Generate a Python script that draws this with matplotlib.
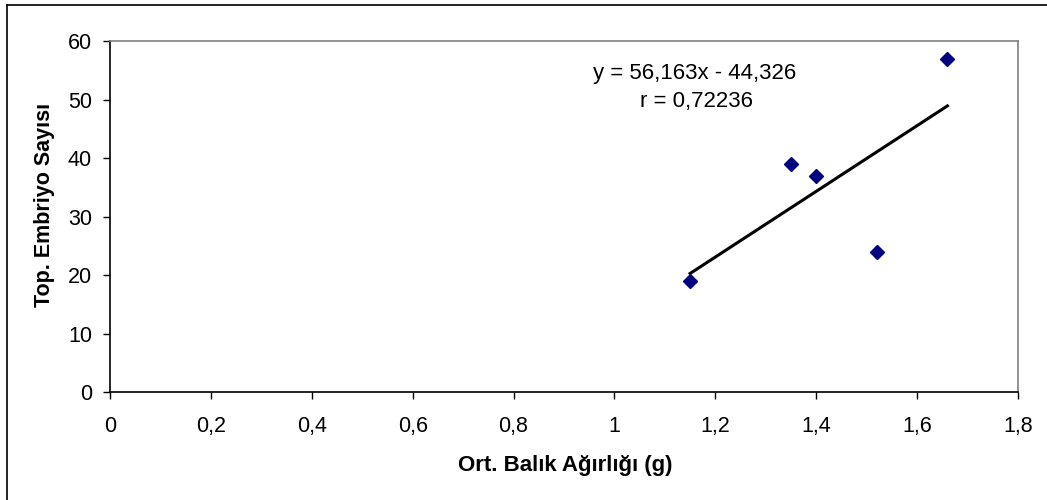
import numpy as np
import matplotlib
matplotlib.use("Agg")
import matplotlib.pyplot as plt
from matplotlib.lines import Line2D
from matplotlib.ticker import FuncFormatter

# Data
weight = [1.15, 1.35, 1.40, 1.52, 1.66]
embryos = [19, 39, 37, 24, 57]
x_ticks = [0, 0.2, 0.4, 0.6, 0.8, 1.0, 1.2, 1.4, 1.6, 1.8]
y_ticks = [0, 10, 20, 30, 40, 50, 60]
eq_text = "y = 56,163x - 44,326"
r_text = "r = 0,72236"
x_label = "Ort. Balık Ağırlığı (g)"
y_label = "Top. Embriyo Sayısı"

plt.rcParams['font.family'] = ['Liberation Sans', 'DejaVu Sans']

fig = plt.figure(figsize=(10.47, 5.0), dpi=100)
ax = fig.add_axes([110/1047, 1-392/500, (1018-110)/1047, (392-41)/500])

# outer chart border (only top and left visible, cropped)
fig.add_artist(Line2D([7/1047, 7/1047], [0, 1-5/500], transform=fig.transFigure, color='black', lw=1.2))
fig.add_artist(Line2D([7/1047, 1], [1-5/500, 1-5/500], transform=fig.transFigure, color='black', lw=1.2))

# trend line
coef = np.polyfit(weight, embryos, 1)
xs = np.array([min(weight), max(weight)])
ax.plot(xs, np.polyval(coef, xs), color='black', lw=2.2, zorder=2)

ax.plot(weight, embryos, linestyle='none', marker='D', markersize=7.5,
        color='#000080', zorder=3)

ax.set_xlim(0, 1.8)
ax.set_ylim(0, 60)
ax.set_xticks(x_ticks)
ax.set_yticks(y_ticks)
fmt = FuncFormatter(lambda v, p: ('%g' % v).replace('.', ','))
ax.xaxis.set_major_formatter(fmt)
ax.tick_params(axis='both', direction='out', length=5, width=1, labelsize=15.5, colors='black')
ax.tick_params(axis='x', pad=12.5)
ax.tick_params(axis='y', pad=8)

for s in ['top', 'right']:
    ax.spines[s].set_color('#808080')
    ax.spines[s].set_linewidth(1.2)
for s in ['left', 'bottom']:
    ax.spines[s].set_color('black')
    ax.spines[s].set_linewidth(1.2)

fig.text(695/1047, 1-73/500, eq_text, ha='center', va='center', fontsize=16)
fig.text(696/1047, 1-102/500, r_text, ha='center', va='center', fontsize=16)

fig.text(565/1047, 1-465/500, x_label, ha='center', va='center', fontsize=16, fontweight='bold')
fig.text(45/1047, 1-205/500, y_label, ha='center', va='center', rotation=90, fontsize=15.5, fontweight='bold')

fig.savefig('out.png', dpi=100)
